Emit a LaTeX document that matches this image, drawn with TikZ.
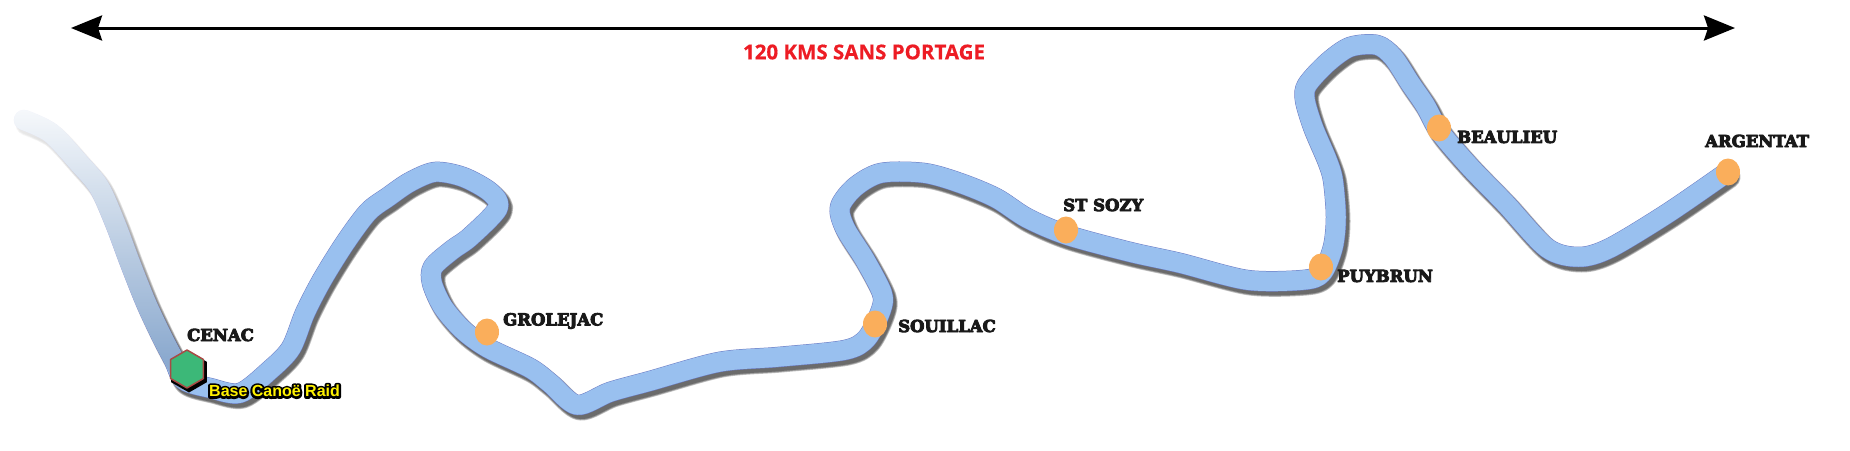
\documentclass[tikz,border=0pt]{standalone}
\usepackage{fontspec}
\usetikzlibrary{shapes.geometric,arrows.meta,fadings}
\newfontfamily\townfont{DejaVu Serif}
\newfontfamily\titlefont{Open Sans}[BoldFeatures={FakeBold=.4}]
\newfontfamily\basefont{Liberation Sans}
\newcommand{\blackedge}[1]{\rlap{\special{pdf:code q 1 J 1 j 4.5 w 0 0 0 RG 0 0 0 rg 2 Tr}#1\special{pdf:code 0 Tr Q}}}
\definecolor{riverblue}{HTML}{99C0EF}
\definecolor{riveredge}{HTML}{6C7CC4}
\definecolor{rivergrey}{HTML}{8CAACF}
\definecolor{townorange}{HTML}{FAAE5B}
\definecolor{basegreen}{HTML}{3CB878}
\definecolor{baseedge}{HTML}{A84A45}
\definecolor{titlered}{HTML}{ED1C24}
\tikzfading[name=upstream,top color=transparent!2,middle color=transparent!2,bottom color=transparent!100]
\tikzset{
  town/.style={ellipse,fill=townorange,minimum width=24pt,minimum height=27pt,inner sep=0pt},
  townlabel/.style={anchor=west,inner sep=0pt,font=\townfont\bfseries\fontsize{16.5}{18}\selectfont,text=black!90,
    execute at begin node={\special{pdf:code q 1 j .9 w .1 G 2 Tr}},execute at end node={\special{pdf:code 0 Tr Q}}},
  base/.style={regular polygon,regular polygon sides=6,shape border rotate=90,minimum size=41pt,inner sep=0pt},
}
\def\upperriver{plot[smooth,tension=.5] coordinates {(24,120) (51,133) (79,163) (99,187) (115,223) (130,263) (146,303) (162,337) (174,360) (184,380)}}
\def\river{plot[smooth,tension=.5] coordinates {(24,120) (51,133) (79,163) (99,187) (115,223) (130,263) (146,303) (162,337) (174,360) (184,380) (210,388) (240,393) (270,370) (291,348) (305,313) (322,280) (345,243) (368,212) (388,197) (410,182) (435,172) (463,177) (490,192) (498,208) (470,237) (452,250) (433,267) (432,283) (443,307) (463,330) (488,348) (530,368) (550,383) (577,405) (610,392) (650,381) (719,362) (778,357) (845,350) (867,338) (881,310) (882,293) (865,260) (845,228) (840,207) (855,187) (881,173) (924,173) (960,183) (996,198) (1027,218) (1067,235) (1130,252) (1180,263) (1247,280) (1303,280) (1322,273) (1333,247) (1336,217) (1333,180) (1327,160) (1313,127) (1305,100) (1307,85) (1327,63) (1350,47) (1377,45) (1393,57) (1410,83) (1425,105) (1440,132) (1470,167) (1505,203) (1547,248) (1579,257) (1610,248) (1668,213) (1726,173)}}
\begin{document}
\begin{tikzpicture}[x=1pt,y=-1pt,line join=round,line cap=round]
  \useasboundingbox (0,0) rectangle (1850,450);

  % length of the run
  \coordinate (west) at (71,28);
  \coordinate (east) at (1735,28);
  \draw[line width=3pt,{Stealth[length=31pt,width=25pt,inset=4pt]}-{Stealth[length=31pt,width=25pt,inset=4pt]}] (west) -- (east);
  \node[titlered,font=\titlefont\bfseries\fontsize{20.5}{22}\selectfont] (runlength) at (864,52) {120 KMS SANS PORTAGE};

  % river
  \foreach \w in {23,21.5,20}
    \draw[black,opacity=.25,line width=\w pt,shift={(3,4)}] \river;
  \draw[riveredge,line width=20.5pt] \river;
  \draw[riverblue,line width=19.5pt] \river;
  \draw[rivergrey,line width=19.5pt] \upperriver;
  \fill[white,path fading=upstream] (0,95) rectangle (205,358);

  % towns
  \node[town] (grolejac) at (487,332) {};
  \node[town] (souillac) at (875,324) {};
  \node[town] (stsozy) at (1066,230) {};
  \node[town] (puybrun) at (1321,267) {};
  \node[town] (beaulieu) at (1439,128) {};
  \node[town] (argentat) at (1728,172) {};

  \node[townlabel] (cenaclabel) at (187,335) {CENAC};
  \node[townlabel] (grolejaclabel) at (503,321) {GROLEJAC};
  \node[townlabel] (souillaclabel) at (898,326) {SOUILLAC};
  \node[townlabel] (stsozylabel) at (1063,205) {ST SOZY};
  \node[townlabel] (puybrunlabel) at (1337,276) {PUYBRUN};
  \node[townlabel] (beaulieulabel) at (1457,137) {BEAULIEU};
  \node[townlabel] (argentatlabel) at (1705,141) {ARGENTAT};

  % base
  \node[base,fill=black] (baseshadow) at (189,372) {};
  \node[base,fill=basegreen,draw=baseedge,line width=1.5pt,minimum size=38pt] (cenac) at (187,369) {};
  \node[anchor=west,inner sep=0pt,font=\basefont\bfseries\fontsize{16}{18}\selectfont] (baselabel) at (209,391)
    {\blackedge{Base Canoë Raid}\color{yellow}Base Canoë Raid};
\end{tikzpicture}
\end{document}
